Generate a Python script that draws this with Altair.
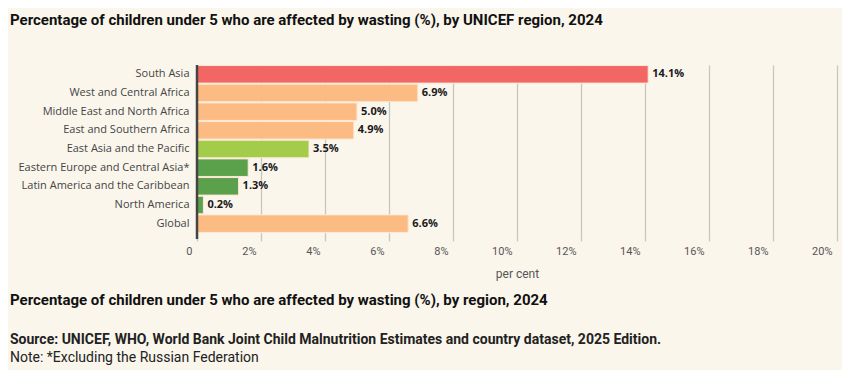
import altair as alt
import pandas as pd

regions = ["South Asia", "West and Central Africa", "Middle East and North Africa",
           "East and Southern Africa", "East Asia and the Pacific",
           "Eastern Europe and Central Asia*", "Latin America and the Caribbean",
           "North America", "Global"]
values = [14.1, 6.9, 5.0, 4.9, 3.5, 1.6, 1.3, 0.2, 6.6]
groups = ["high", "mid", "mid", "mid", "low", "vlow", "vlow", "vlow", "mid"]
group_domain = ["high", "mid", "low", "vlow"]
group_colors = ["#F26763", "#FDBB84", "#A2CC4A", "#5BA14C"]
x_ticks = [0, 2, 4, 6, 8, 10, 12, 14, 16, 18, 20]

title_text = "Percentage of children under 5 who are affected by wasting (%), by UNICEF region, 2024"
subtitle_text = "Percentage of children under 5 who are affected by wasting (%), by region, 2024"
source_text = "Source: UNICEF, WHO, World Bank Joint Child Malnutrition Estimates and country dataset, 2025 Edition."
note_text = "Note: *Excluding the Russian Federation"

df = pd.DataFrame({"region": regions, "value": values, "group": groups})
df["label"] = [f"{v:.1f}%" for v in values]

W, H = 640, 168
BG = "#FAF6EC"

x_enc = alt.X("value:Q", scale=alt.Scale(domain=[0, 20], nice=False),
              axis=alt.Axis(values=x_ticks, title="per cent",
                            labelExpr="datum.value == 0 ? '0' : datum.value + '%'",
                            labelAlign="right", labelOffset=-5, labelPadding=4,
                            labelFont="Roboto", labelFontSize=11, labelColor="#555",
                            titleFont="Roboto", titleFontSize=12, titleFontWeight="normal",
                            titleColor="#555", titlePadding=12,
                            grid=True, gridColor="#C9C5BA", gridWidth=1.3,
                            domain=False, ticks=True, tickColor="#C9C5BA", tickSize=8,
                            tickWidth=1.3))
y_enc = alt.Y("region:N", sort=regions, scale=alt.Scale(paddingInner=0.06, paddingOuter=0.03),
              axis=alt.Axis(title=None, labelFont="Open Sans", labelFontSize=11,
                            labelColor="#444", ticks=False, domain=False, labelPadding=8,
                            grid=False))

bars = alt.Chart(df).mark_bar(stroke="#FDE9D6", strokeWidth=1).encode(
    x=x_enc, y=y_enc,
    color=alt.Color("group:N", scale=alt.Scale(domain=group_domain, range=group_colors),
                    legend=None),
)

labels = alt.Chart(df).mark_text(align="left", baseline="middle", dx=4,
                                 font="Open Sans", fontSize=11, fontWeight="bold",
                                 color="#1a1a1a").encode(
    x="value:Q", y=alt.Y("region:N", sort=regions), text="label:N")

zero_line = alt.Chart(pd.DataFrame({"v": [0]})).mark_rule(color="#444", strokeWidth=2.5).encode(
    x="v:Q", y=alt.value(0), y2=alt.value(H + 6))

def txt(s, y, size, weight, color="#111", font="Roboto"):
    return alt.Chart(pd.DataFrame({"t": [s]})).mark_text(
        align="left", baseline="middle", font=font, fontSize=size,
        fontWeight=weight, color=color).encode(
        x=alt.value(-187), y=alt.value(y), text="t:N")

texts = (txt(title_text, -45, 15, "bold")
         + txt(subtitle_text, H + 67, 15, "bold")
         + txt(source_text, H + 107, 14, "bold", "#222")
         + txt(note_text, H + 125, 14, "normal", "#222"))

chart = alt.layer(bars, labels, zero_line, texts).properties(
    width=W, height=H, background=BG,
    padding={"left": 189, "top": 57, "right": 5, "bottom": 137},
    autosize=alt.AutoSizeParams(type="none"),
).configure_view(stroke=None, fill=BG)

chart.save("out.html", embed_options={"renderer": "svg", "actions": False})
